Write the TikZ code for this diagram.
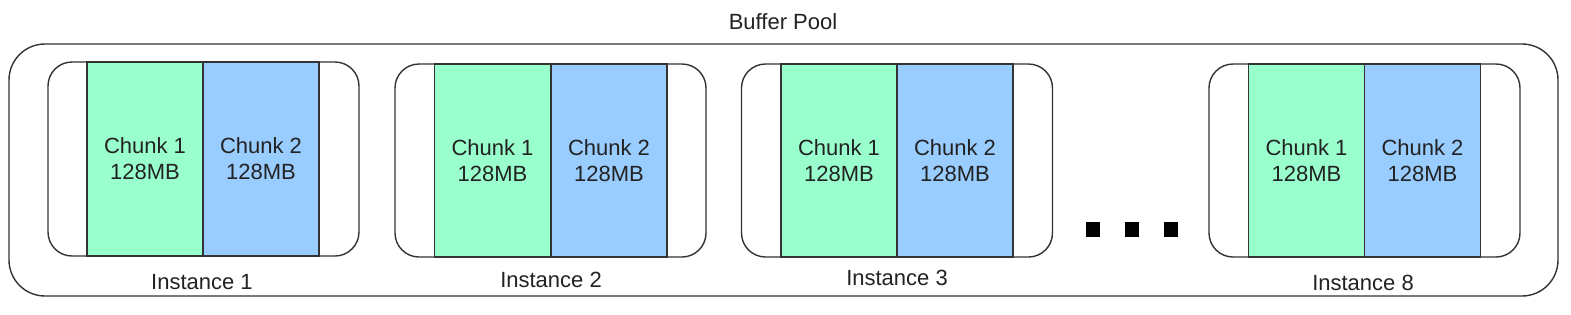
\documentclass[tikz,border=0pt]{standalone}
\usepackage{fontspec}
\setmainfont{Liberation Sans}
\definecolor{chunkg}{HTML}{99FFCC}
\definecolor{chunkb}{HTML}{99CCFF}
\definecolor{linec}{HTML}{333333}
\definecolor{textc}{HTML}{222222}
\begin{document}
\begin{tikzpicture}[x=1pt,y=-1pt,
  txt/.style={font=\fontsize{22}{26}\selectfont, text=textc, inner sep=0pt},
  outerbox/.style={draw=linec, line width=1.4pt, rounded corners=36pt, inner sep=0pt},
  instbox/.style={draw=linec, line width=1.4pt, rounded corners=24pt, inner sep=0pt, minimum width=311pt, minimum height=194pt},
  chunkbox/.style={draw=linec, line width=1.4pt, inner sep=0pt, minimum width=116pt, minimum height=194pt, align=center, txt},
  cg/.style={chunkbox, fill=chunkg},
  cb/.style={chunkbox, fill=chunkb},
  dotsq/.style={fill=black, inner sep=0pt, minimum width=14pt, minimum height=15pt}]
\useasboundingbox (0,0) rectangle (1571,314);
\node[outerbox, minimum width=1549pt, minimum height=252pt] (pool) at (783.5,170) {};
\node[txt] (pooltitle) at (783,22) {Buffer Pool};
% Instance 1
\node[instbox] (inst1) at (203.5,159) {};
\node[cg] (c11) at (145,159) {Chunk 1\\128MB};
\node[cb] (c12) at (261,159) {Chunk 2\\128MB};
\node[txt] (l1) at (202,282) {Instance 1};
% Instance 2
\node[instbox, minimum height=193pt] (inst2) at (550.5,160.5) {};
\node[cg, minimum height=193pt] (c21) at (492.5,160.5) {Chunk 1\\128MB};
\node[cb, minimum height=193pt] (c22) at (609,160.5) {Chunk 2\\128MB};
\node[txt] (l2) at (551,280) {Instance 2};
% Instance 3
\node[instbox, minimum height=193pt] (inst3) at (897,160.5) {};
\node[cg, minimum height=193pt] (c31) at (839,160.5) {Chunk 1\\128MB};
\node[cb, minimum height=193pt] (c32) at (955,160.5) {Chunk 2\\128MB};
\node[txt] (l3) at (897,278) {Instance 3};
% dots
\node[dotsq] (d1) at (1093,229.5) {};
\node[dotsq] (d2) at (1132,229.5) {};
\node[dotsq] (d3) at (1171,229.5) {};
% Instance 8
\node[instbox, minimum height=193pt] (inst8) at (1364.5,160.5) {};
\node[cg, minimum height=193pt] (c81) at (1306.5,160.5) {Chunk 1\\128MB};
\node[cb, minimum height=193pt] (c82) at (1422.5,160.5) {Chunk 2\\128MB};
\node[txt] (l8) at (1363,283) {Instance 8};
\end{tikzpicture}
\end{document}
